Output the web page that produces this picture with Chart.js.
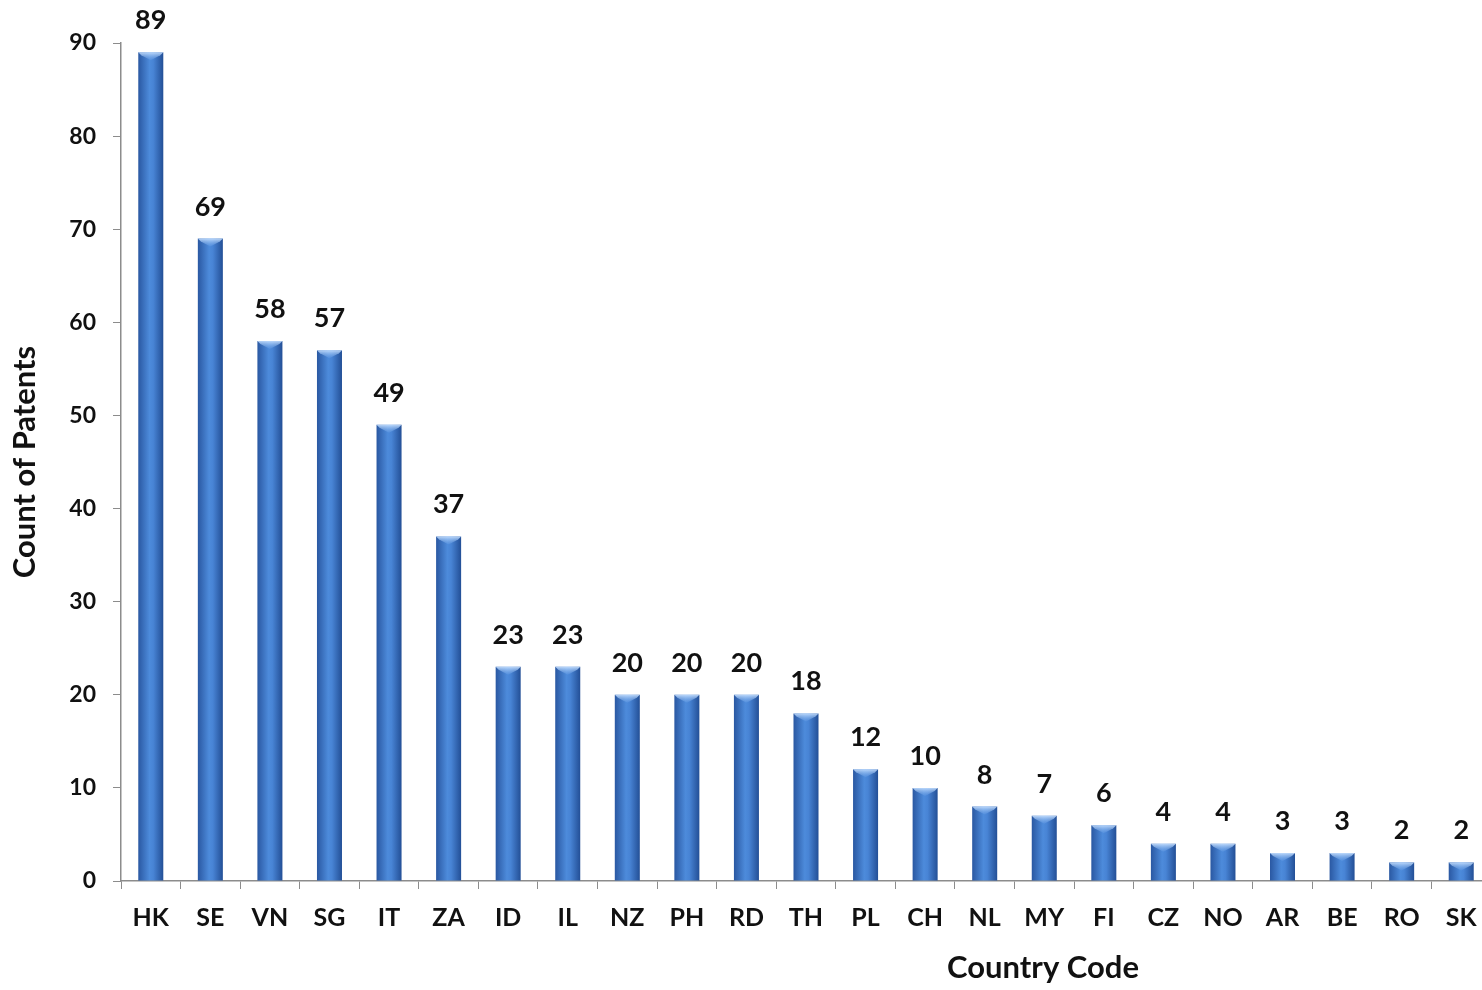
<!DOCTYPE html>
<html>
<head>
<meta charset="utf-8">
<script src="https://cdn.jsdelivr.net/npm/chart.js@4.4.1/dist/chart.umd.min.js"></script>
<style>
  html, body { margin: 0; padding: 0; background: #fff; overflow: hidden; }
  #wrap { position: relative; width: 1500px; height: 990px; }
</style>
</head>
<body>
<div id="wrap"><canvas id="chart"></canvas></div>
<script>
// data
const countries = ['HK', 'SE', 'VN', 'SG', 'IT', 'ZA', 'ID', 'IL', 'NZ', 'PH', 'RD', 'TH',
  'PL', 'CH', 'NL', 'MY', 'FI', 'CZ', 'NO', 'AR', 'BE', 'RO', 'SK'];
const patentCounts = [89, 69, 58, 57, 49, 37, 23, 23, 20, 20, 20, 18, 12, 10, 8, 7, 6, 4, 4, 3, 3, 2, 2];
const yTicks = [0, 10, 20, 30, 40, 50, 60, 70, 80, 90];
const xTitle = 'Country Code';
const yTitle = 'Count of Patents';

const FONT = 'Lato, "Open Sans", sans-serif';
const BAR_PCT = 0.42;

// bar fill: darker edges, lighter middle (cylinder look)
function barFill(ctx) {
  const chart = ctx.chart;
  const xs = chart.scales.x;
  if (!xs || ctx.dataIndex === undefined) return '#3a74c4';
  const cx = xs.getPixelForValue(ctx.dataIndex);
  const w = xs.width / countries.length * BAR_PCT;
  if (!isFinite(cx) || !isFinite(w) || w <= 0) return '#3a74c4';
  const g = chart.ctx.createLinearGradient(cx - w / 2, 0, cx + w / 2, 0);
  g.addColorStop(0, '#2a58a2');
  g.addColorStop(0.45, '#4d8bdb');
  g.addColorStop(0.6, '#4884d5');
  g.addColorStop(1, '#234f96');
  return g;
}

// light bevel at the top of each bar + value labels
const barDecor = {
  id: 'barDecor',
  afterDatasetsDraw(chart) {
    const c = chart.ctx;
    const meta = chart.getDatasetMeta(0);
    c.save();
    meta.data.forEach((bar, i) => {
      const half = bar.width / 2;
      const top = bar.y;
      const g = c.createLinearGradient(0, top, 0, top + 8);
      g.addColorStop(0, 'rgba(200,225,255,0.9)');
      g.addColorStop(1, 'rgba(120,170,235,0.2)');
      c.fillStyle = g;
      c.beginPath();
      c.moveTo(bar.x - half, top);
      c.lineTo(bar.x + half, top);
      c.lineTo(bar.x + half - 3, top + 3);
      c.lineTo(bar.x, top + 8);
      c.lineTo(bar.x - half + 3, top + 3);
      c.closePath();
      c.fill();

      c.fillStyle = '#111';
      c.font = 'bold 27px ' + FONT;
      c.textAlign = 'center';
      c.textBaseline = 'alphabetic';
      c.fillText(String(patentCounts[i]), bar.x, top - 23);
    });
    // x axis title, sits under the right half of the axis
    const xs = chart.scales.x;
    c.font = 'bold 31px ' + FONT;
    c.fillStyle = '#111';
    c.textAlign = 'center';
    c.textBaseline = 'middle';
    c.fillText(xTitle, xs.left + (xs.right - xs.left) * 0.673, 968);
    c.restore();
  }
};

new Chart(document.getElementById('chart'), {
  type: 'bar',
  data: {
    labels: countries,
    datasets: [{
      data: patentCounts,
      backgroundColor: barFill,
      borderWidth: 0,
      barPercentage: BAR_PCT,
      categoryPercentage: 1
    }]
  },
  options: {
    responsive: true,
    maintainAspectRatio: false,
    animation: false,
    layout: { padding: { left: 0, top: 43, right: 9, bottom: 0 } },
    plugins: {
      legend: { display: false },
      tooltip: { enabled: false }
    },
    scales: {
      x: {
        grid: { drawOnChartArea: false, tickLength: 8, color: '#8c8c8c', offset: true },
        border: { color: '#8c8c8c', width: 1.5 },
        ticks: { color: '#111', font: { family: FONT, size: 25, weight: 'bold' }, padding: 14, maxRotation: 0, autoSkip: false },
        afterFit(scale) { scale.height = 109; }
      },
      y: {
        min: 0,
        max: 90,
        afterBuildTicks(scale) { scale.ticks = yTicks.map(v => ({ value: v })); },
        grid: { drawOnChartArea: false, tickLength: 8, color: '#8c8c8c' },
        border: { color: '#8c8c8c', width: 1.5 },
        ticks: { color: '#111', font: { family: FONT, size: 23, weight: 'bold' }, padding: 17 },
        title: { display: true, text: yTitle, color: '#111', font: { family: FONT, size: 31, weight: 'bold' }, padding: { top: 6, bottom: 0 } },
        afterFit(scale) { scale.width = 121; }
      }
    }
  },
  plugins: [barDecor]
});
</script>
</body>
</html>
